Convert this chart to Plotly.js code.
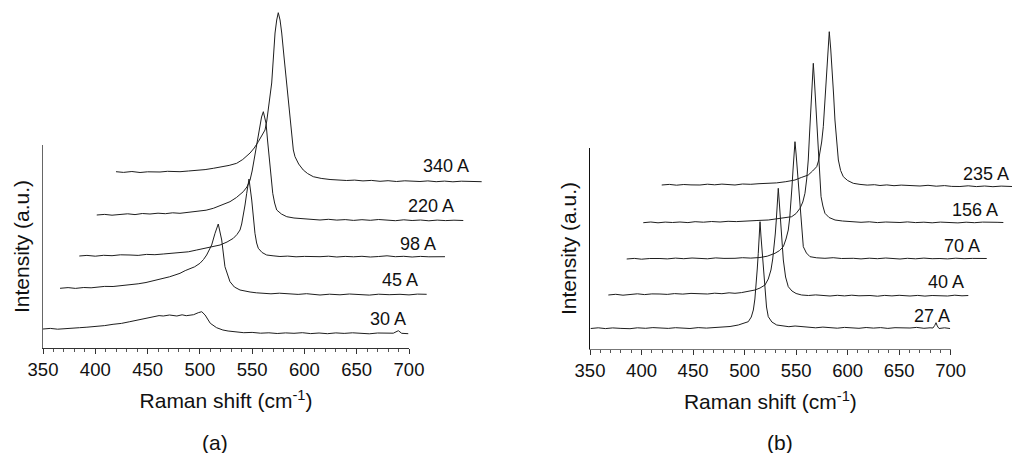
<!DOCTYPE html>
<html>
<head>
<meta charset="utf-8">
<script src="https://cdn.plot.ly/plotly-3.0.1.min.js"></script>
<style>html,body{margin:0;padding:0;background:#fff;}#chart{width:1013px;height:453px;}</style>
</head>
<body>
<div id="chart"></div>
<script>
// ---------- data (Raman shift as plotted on the axis, intensity in a.u.) ----------
const tickVals = [350, 400, 450, 500, 550, 600, 650, 700];
const minorTickVals = [360,370,380,390,410,420,430,440,460,470,480,490,510,520,530,540,560,570,580,590,610,620,630,640,660,670,680,690];

// panel (a)
const labelsA = ['30 A', '45 A', '98 A', '220 A', '340 A'];
const a30x = [350,357,364,370,377,385,392,401,409,417,425,433,440,446,451,456,461,465,471,478,483,487,491,494,498.5,501.8,505,510,516,522,527,532,537,542,550,558,566,574,582,590,598,606,614,622,630,638,646,654,662,670,678,685,689.8,693,699.3];
const a30y = [19,19.6,18.8,19.4,20.2,20.3,20.8,21.3,22.4,23.7,24.6,26.3,27.8,29.7,30.4,31.3,32.4,32,33,32,33.2,32.3,32.8,33.3,35.3,36.3,33,24.7,20.3,18,17,16.3,15.8,15.3,15.6,14.8,15.2,14.5,15.1,14.7,15.3,14.4,15,14.3,15.1,14.6,15.2,14.7,14.2,15,14.6,14.8,17.3,14.7,14.3];
const a45x = [366.3,374,381,389,396,401.4,409,417,425,433.2,441,448.5,456,464.8,471,476.2,481,486,490.6,495,500.1,503.5,506.5,509,511.3,514.5,517.6,520.9,524,528.8,533,538.4,543,548,554,560.7,568,576,586.2,594,602,614.9,624,634,643,653.1,662,671,681,691.4,700,708,716.9];
const a45y = [59.7,60.4,59.6,60.5,60.2,60.7,61.6,61.5,62.4,63,64.2,65.5,67.3,69.7,71.2,73,74.7,77.4,79.7,81.2,84.7,88.5,93,97.5,103,114.7,124,108,81.3,66.3,61,58,56.8,56,55.2,54.7,54.2,54.8,54,53.6,54.3,53,53.8,53.2,54,53.5,52.9,53.8,53.3,53.7,53.1,53.9,53.7];
const a98x = [384.7,392,400,408,416,424,433.2,441,449,457,465,473,481,489,497,503,509.7,514,519.3,526,532,535.5,538.4,540,541.5,543.2,544.8,547,549.6,551.2,552.7,554.3,555.9,559.5,563.9,570,576.6,584,592,600,608,614.9,623,631,639,647,655,663,671,679,687,695,703,711,719,727,734.4];
const a98y = [92,92.6,91.8,92.7,92.3,93.2,93,92.6,93.6,93.3,94,94.6,95.3,96.2,98,99.2,100.5,101.8,103,106,109.7,113.5,118,124,131.3,143,154.7,169,148,130,114.7,105,99.7,95.5,93,92.2,91.5,91.9,91.2,91.6,91.1,91.3,91.8,91,91.6,91.2,91.7,91,91.5,92.2,91.3,91.7,91,91.6,91.2,91.5,91.3];
const a220x = [401.4,409,416,423.6,431,438,445,452.3,460,467,474,481,488,494,500.1,506,512.9,520,528.8,535,541.5,545,548,550,551.8,553.4,554.9,556.2,557.5,559,560.7,562,563.3,564.8,566.4,568,569.7,571.5,573.5,578,583.1,590,598,606,614.9,623,631,639,647,655,663,671,679,687,695,703,711,719,727,735,743,751.9];
const a220y = [133,133.6,132.8,133.5,134.2,133.4,134.5,134,134.8,134.3,135.2,134.7,135.6,135.9,136.5,137.8,139.7,142.5,146.3,150.5,156.3,161,168,177,188,198,208,216,224.7,231,236.3,231,224.7,207,188,170,154.7,145,138,134,131.3,130,129.2,128.6,128,128.7,127.9,128.4,127.6,128.3,127.7,128.5,127.8,127.3,128.2,127.5,128,127.2,127.9,127.4,127.8,127.5];
const a340x = [419.8,427,435,442.8,450,457,461.9,469,476,481,489,497,505,512.9,520,528,535.2,541,548,552,555.9,559,562.3,564,565.5,567,568.7,570.3,571.9,573.5,575,576.7,578.3,580.6,583,585.5,587.8,589.4,591,594.5,598.9,603,608.5,616,624.5,632,640.4,648,656,664,672.3,680,688,696,704,710.5,718,726,734,742,750,758,764,769.5];
const a340y = [176.3,175.6,176.5,175.5,176.2,175.8,176,176.7,176.1,176.3,177,177.5,178.4,179.7,181,182.6,184.7,188.5,195,200,206.3,211.5,218,227,238,251,265,290,315,328,335.3,328,315,290,265,236,208,198,191.3,184,178,174.5,171.3,169.6,168.5,168,167.5,167.9,167.1,167.6,166.7,167.3,166.5,167.2,166.4,166.5,167.1,166.3,166.9,166.2,166.8,166.4,166.7,166.3];

// panel (b)
const labelsB = ['27 A', '40 A', '70 A', '156 A', '235 A'];
const b27x = [350.7,358,365,372,380,388.8,396,404,411,418,426,433,440,447,455,463,471.3,478,485.9,493.9,499,503.6,506.5,508.5,510,511.1,512.3,513.3,514.2,515,515.9,517.2,518.5,519.8,521.3,523,526.5,531.2,537,543,549,555.4,562,569,576,582.9,590,597,604,611,618,625,632,639,646,653,660.5,667,674,680,682.8,684.5,685.8,687,688.7,694,699.4];
const b27y = [20.5,21.2,20.4,21.1,20.6,20.3,21.2,20.7,21.4,21,20.6,21.3,20.8,20.5,21.4,20.9,21.5,22.1,22.5,24,25.4,27.3,32,39,50,62.3,80,95.7,113,127.3,113,95.7,74,55.7,42,32.3,27,24,22.8,22.3,23,22.3,21.8,21.2,21.9,21.5,20.8,21.6,21.1,20.7,21.5,20.9,21.4,20.6,21.3,20.8,21,21.6,20.7,21.2,21,23.5,26.3,23,20.5,21.2,20.5];
const b40x = [367.8,375,382,388.8,396,403,410,417.9,425,432,440,448,456.7,464,471,478,485,490.7,497,503,510.1,515,519.8,523,525.6,527.3,528.8,529.8,530.8,531.8,532.7,533.8,535,536.3,537.6,539.8,542.4,546,550,555.4,562,569,576,582.9,590,597,604,611,621.7,629,636,643,650,660.5,668,675,682,689.6,697,704,711,717.1];
const b40y = [54,54.7,53.8,54.5,55.2,54.4,55.1,55,54.6,55.4,54.9,55.6,55.5,55,55.8,55.3,56.2,55.7,56.4,57.3,59,61,64,70,79,90,102.3,115,129,145,160.7,145,129,108,89,72,62.3,58,55.5,54,53.5,54.1,53.2,53,53.7,53.1,53.8,53.2,53.5,52.8,53.6,53.1,53.7,53,53.6,52.9,53.5,53.5,53,53.8,53.2,53.5];
const b70x = [385.6,393,400,408,417.9,425,433,441,449,456.7,464,472,480,490.7,498,506,514.9,522,529.5,534,537.6,540.2,542.4,543.8,545.1,546,547,548,548.9,550,551.2,552.5,553.8,555.4,557,560,563.5,570,578,586,594,605.5,613,621,629,637,645,650.8,658,666,674,682,689.6,697,705,713,721,728,735];
const b70y = [90,90.6,89.8,90.5,90.5,90.1,90.9,90.3,91,90.5,90.2,91.1,90.6,90.7,91.3,90.9,91.5,92.8,95.7,98.5,102.3,110,119,131,145.7,162,179,195,207.3,195,179,157,135.7,117,102.3,96,92.3,91.2,90.7,91.3,90.5,90.7,90.1,90.8,90.3,91,90.2,90,90.7,90.2,90.9,90.3,90.5,90.1,90.8,90.3,90.6,90.2,90.5];
const b156x = [401.7,409,416,423,430,437.3,445,452,460,468,476.2,484,492,502.1,512,523,534,545.7,550,553.8,556.5,558.6,560.3,561.8,563.2,564.5,565.6,566.7,567.8,569,570.3,571.5,572.9,574.2,576,578,582,587.8,595,605.5,613,621,629,637,645,650.8,658,666,674,682,690,699.3,707,715,723,731,739,745,751.1];
const b156y = [126.3,127,126.2,126.9,126.5,127,126.4,127.3,126.8,127.5,127,127.7,127.4,128.3,128.5,129,130.4,132.3,135.5,140.7,147,155.7,170,189,218,245.7,268,285.7,268,245.7,217,189,168,152.3,143,135.7,131.5,129,128,127.3,126.7,127.2,126.4,127,126.3,126.5,127.1,126.4,126.8,126.2,126.9,126.5,126.1,126.8,126.3,126.9,126.4,126.7,126.5];
const b235x = [419.6,427,434,441,448,456.7,464,471,478,485,490.7,498,506,514,523,531,540,548.9,555,561.8,566,570,571.7,573.2,574.8,576.4,578,579.7,581,582.2,583.6,585.1,586.4,587.7,589.3,591,593.2,595.8,600,605.5,612,619,626,631.4,638,645,652,660,670.2,678,686,694,701,709,717,725,733,741,749,759.5];
const b235y = [164,164.6,163.8,164.5,164.1,164,164.8,164.2,164.9,164.4,164,165,164.7,165.3,165.7,166.1,167.3,169,171.5,174,178,182.3,188,195.7,207,222.3,250,279,300,317.3,300,279,254,229,207,189,178.5,172.3,168.5,165.7,164.6,163.9,164.3,163.5,164.1,163.3,163.9,163.2,163,163.7,162.8,163.4,162.6,162.5,163.2,162.4,163,162.3,162.9,162.5];

// ---------- build traces ----------
const W = 1013, H = 453;
const FONT = '"Liberation Sans", Arial, Helvetica, sans-serif';
const lineStyle = {color: '#1e1e1e', width: 1};

const specA = [[a30x, a30y], [a45x, a45y], [a98x, a98y], [a220x, a220y], [a340x, a340y]];
const specB = [[b27x, b27y], [b40x, b40y], [b70x, b70y], [b156x, b156y], [b235x, b235y]];

const traces = [];
// placeholder traces so the visible axis subplots exist
traces.push({x: [], y: [], xaxis: 'x', yaxis: 'y', type: 'scatter', mode: 'lines', showlegend: false, hoverinfo: 'skip'});
traces.push({x: [], y: [], xaxis: 'x2', yaxis: 'y2', type: 'scatter', mode: 'lines', showlegend: false, hoverinfo: 'skip'});
specA.forEach((s, i) => traces.push({x: s[0], y: s[1], name: labelsA[i], xaxis: 'x3', yaxis: 'y3', type: 'scatter', mode: 'lines', line: lineStyle, showlegend: false}));
specB.forEach((s, i) => traces.push({x: s[0], y: s[1], name: labelsB[i], xaxis: 'x4', yaxis: 'y4', type: 'scatter', mode: 'lines', line: lineStyle, showlegend: false}));

const px = v => v / W;
const py = v => 1 - v / H;

function visX(domain, lineColor) {
  return {
    domain: domain, range: [350, 700], anchor: domain[0] < 0.5 ? 'y' : 'y2',
    showline: true, linecolor: lineColor, linewidth: 1, mirror: false,
    showgrid: false, zeroline: false, fixedrange: true,
    tickmode: 'array', tickvals: tickVals, ticktext: tickVals.map(String),
    ticks: 'outside', ticklen: 5, tickwidth: 1, tickcolor: '#333',
    minor: {tickmode: 'array', tickvals: minorTickVals, ticks: 'outside', ticklen: 2.5, tickwidth: 1, tickcolor: '#555', showgrid: false},
    tickfont: {family: FONT, size: 18.5, color: '#111'},
    title: {text: 'Raman shift (cm<sup>-1</sup>)', font: {family: FONT, size: 21, color: '#111'}, standoff: 14}
  };
}
function visY(domain, lineColor, anchor) {
  return {
    domain: domain, range: [0, 1], anchor: anchor,
    showline: true, linecolor: lineColor, linewidth: 1,
    showgrid: false, zeroline: false, showticklabels: false, ticks: '', fixedrange: true,
    title: {text: 'Intensity (a.u.)', font: {family: FONT, size: 21, color: '#111'}, standoff: 6}
  };
}
function hidden(domain, range, anchor) {
  return {domain: domain, range: range, anchor: anchor, visible: false, showgrid: false, zeroline: false, fixedrange: true};
}

const layout = {
  width: W, height: H,
  margin: {l: 0, r: 0, t: 0, b: 0, pad: 0},
  paper_bgcolor: '#fff', plot_bgcolor: 'rgba(0,0,0,0)',
  showlegend: false,
  font: {family: FONT, color: '#111'},
  // visible axes (panel a / panel b)
  xaxis: visX([px(43), px(409)], '#333'),
  yaxis: visY([py(348), py(145)], '#666', 'x'),
  xaxis2: visX([px(590), px(950.7)], '#777'),
  yaxis2: visY([py(349), py(148)], '#111', 'x2'),
  // data axes (spectra extend beyond the drawn axis lines)
  xaxis3: hidden([px(43), px(493)], [350, 350 + 450 / 1.0457], 'y3'),
  yaxis3: hidden([py(348), 1], [0, 348], 'x3'),
  xaxis4: hidden([px(590), 1], [350, 350 + 423 / 1.0305], 'y4'),
  yaxis4: hidden([py(349), 1], [0, 349], 'x4'),
  annotations: []
};

const labelPosA = [[388, 318.5], [400, 280], [418, 243.5], [431, 206], [446, 166]];
const labelPosB = [[932, 316], [946, 281.5], [962, 246], [975, 210], [985.5, 173.5]];
labelsA.forEach((t, i) => layout.annotations.push({text: t, xref: 'paper', yref: 'paper', x: px(labelPosA[i][0]), y: py(labelPosA[i][1]), xanchor: 'center', yanchor: 'middle', showarrow: false, font: {family: FONT, size: 18, color: '#111'}}));
labelsB.forEach((t, i) => layout.annotations.push({text: t, xref: 'paper', yref: 'paper', x: px(labelPosB[i][0]), y: py(labelPosB[i][1]), xanchor: 'center', yanchor: 'middle', showarrow: false, font: {family: FONT, size: 18, color: '#111'}}));
layout.annotations.push({text: '(a)', xref: 'paper', yref: 'paper', x: px(215), y: py(442), xanchor: 'center', yanchor: 'middle', showarrow: false, font: {family: FONT, size: 21, color: '#111'}});
layout.annotations.push({text: '(b)', xref: 'paper', yref: 'paper', x: px(780), y: py(442), xanchor: 'center', yanchor: 'middle', showarrow: false, font: {family: FONT, size: 21, color: '#111'}});

Plotly.newPlot('chart', traces, layout, {staticPlot: true, displayModeBar: false});
</script>
</body>
</html>
